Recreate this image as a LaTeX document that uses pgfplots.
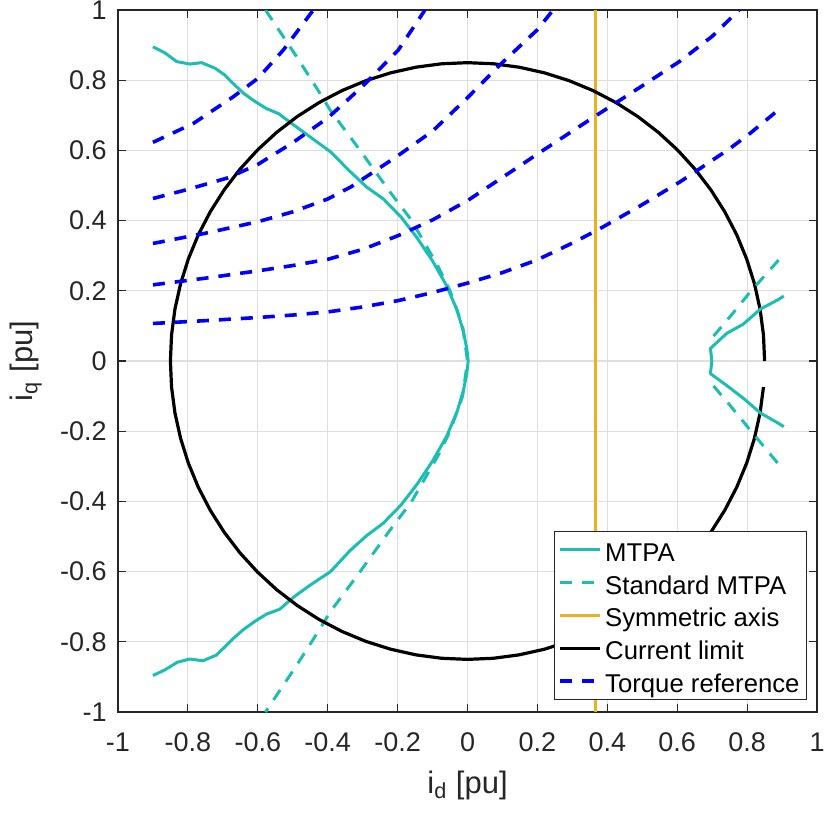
\documentclass[border=0pt]{standalone}
\usepackage{fontspec}
\setmainfont{Liberation Sans}
\usepackage{pgfplots}
\pgfplotsset{compat=1.18}
\definecolor{mteal}{RGB}{28,190,180}
\definecolor{morange}{RGB}{237,177,32}
\definecolor{axgray}{RGB}{38,38,38}
\definecolor{gridgray}{RGB}{223,223,223}
\begin{document}
\begin{tikzpicture}
\begin{axis}[
  scale only axis, width=349.5pt, height=351pt,
  xmin=-1, xmax=1, ymin=-1, ymax=1,
  xtick={-1,-0.8,-0.6,-0.4,-0.2,0,0.2,0.4,0.6,0.8,1},
  ytick={-1,-0.8,-0.6,-0.4,-0.2,0,0.2,0.4,0.6,0.8,1},
  grid=major, major grid style={draw=gridgray, line width=0.6pt},
  axis line style={draw=axgray, line width=0.6pt},
  every tick/.style={draw=axgray, line width=0.6pt},
  major tick length=4pt, tick align=inside,
  tick label style={font=\fontsize{13.5}{16}\selectfont, text=axgray},
  /pgf/number format/assume math mode=true,
  xticklabel style={anchor=north, inner ysep=0pt, yshift=-10pt},
  yticklabel style={anchor=east, inner xsep=0pt, xshift=-5.5pt},
  xlabel={i\textsubscript{d} [pu]}, ylabel={i\textsubscript{q} [pu]},
  label style={font=\fontsize{15.5}{18}\selectfont, text=axgray},
  xlabel style={at={(axis description cs:0.5,-0.1154)}, anchor=base},
  ylabel style={at={(axis description cs:-0.1216,0.5)}, anchor=base},
  legend style={at={(0.9857,0.0171)}, anchor=south east, draw=axgray, line width=0.5pt, fill=white,
    inner xsep=2pt, inner ysep=1pt, row sep=0pt,
    font=\fontsize{12.85}{15}\selectfont,
    nodes={inner xsep=1.5pt, inner ysep=0pt, text height=13.9pt, text depth=2.5pt}},
  legend cell align=left,
  legend image code/.code={\draw[#1] (0pt,0pt) -- (20pt,0pt);},
  every axis plot/.append style={line join=round},
  tdash/.style={dash pattern=on 6pt off 5pt},
]
\coordinate (bl) at (rel axis cs:-0.1688,-0.14245);
\coordinate (tr) at (rel axis cs:1.0114,1.01425);
% MTPA (left branch)
\addplot[mteal, line width=1.5pt] coordinates {
(-0.900,0.895) (-0.866,0.878) (-0.832,0.853) (-0.794,0.846) (-0.761,0.850) (-0.722,0.834)
(-0.695,0.815) (-0.672,0.792) (-0.641,0.763) (-0.609,0.740) (-0.575,0.719) (-0.541,0.705)
(-0.498,0.673) (-0.451,0.639) (-0.392,0.596) (-0.336,0.540) (-0.288,0.495) (-0.241,0.462)
(-0.190,0.410) (-0.145,0.352) (-0.100,0.285) (-0.060,0.215) (-0.030,0.145) (-0.012,0.085)
(-0.002,0.035) (0.002,0)
(-0.002,-0.035) (-0.012,-0.085) (-0.030,-0.145) (-0.060,-0.215) (-0.100,-0.285) (-0.145,-0.352)
(-0.190,-0.410) (-0.241,-0.462) (-0.288,-0.497) (-0.336,-0.540) (-0.392,-0.600) (-0.451,-0.639)
(-0.498,-0.673) (-0.537,-0.707) (-0.575,-0.721) (-0.609,-0.742) (-0.641,-0.765) (-0.672,-0.792)
(-0.695,-0.815) (-0.719,-0.838) (-0.757,-0.854) (-0.794,-0.849) (-0.830,-0.858) (-0.866,-0.880)
(-0.900,-0.896)
};
\addlegendentry{MTPA}
% Standard MTPA (left branch)
\addplot[mteal, line width=1.5pt, tdash] coordinates {
(-0.578,1.0) (-0.489,0.867) (-0.428,0.772) (-0.393,0.715) (-0.308,0.601) (-0.222,0.482)
(-0.161,0.402) (-0.122,0.335) (-0.084,0.269) (-0.050,0.200) (-0.014,0.100) (0,0)
(-0.014,-0.100) (-0.050,-0.200) (-0.084,-0.269) (-0.122,-0.335) (-0.161,-0.402) (-0.222,-0.482)
(-0.308,-0.601) (-0.393,-0.715) (-0.428,-0.772) (-0.489,-0.867) (-0.578,-1.0)
};
\addlegendentry{Standard MTPA}
% Symmetric axis
\addplot[morange, line width=1.5pt] coordinates {(0.365,-1) (0.365,1)};
\addlegendentry{Symmetric axis}
% Current limit
\addplot[black, line width=1.6pt] coordinates {
(0.85,0) (0.8468,0.0741) (0.8371,0.1476) (0.8210,0.2200) (0.7987,0.2907) (0.7704,0.3592) (0.7361,0.4250) (0.6963,0.4875) (0.6511,0.5464) (0.6010,0.6010) (0.5464,0.6511) (0.4875,0.6963) (0.4250,0.7361) (0.3592,0.7704) (0.2907,0.7987) (0.2200,0.8210) (0.1476,0.8371) (0.0741,0.8468) (0,0.85)
(-0.0741,0.8468) (-0.1476,0.8371) (-0.2200,0.8210) (-0.2907,0.7987) (-0.3592,0.7704) (-0.4250,0.7361) (-0.4875,0.6963) (-0.5464,0.6511) (-0.6010,0.6010) (-0.6511,0.5464) (-0.6963,0.4875) (-0.7361,0.4250) (-0.7704,0.3592) (-0.7987,0.2907) (-0.8210,0.2200) (-0.8371,0.1476) (-0.8468,0.0741) (-0.85,0)
(-0.8468,-0.0741) (-0.8371,-0.1476) (-0.8210,-0.2200) (-0.7987,-0.2907) (-0.7704,-0.3592) (-0.7361,-0.4250) (-0.6963,-0.4875) (-0.6511,-0.5464) (-0.6010,-0.6010) (-0.5464,-0.6511) (-0.4875,-0.6963) (-0.4250,-0.7361) (-0.3592,-0.7704) (-0.2907,-0.7987) (-0.2200,-0.8210) (-0.1476,-0.8371) (-0.0741,-0.8468) (0,-0.85)
(0.0741,-0.8468) (0.1476,-0.8371) (0.2200,-0.8210) (0.2907,-0.7987) (0.3592,-0.7704) (0.4250,-0.7361) (0.4875,-0.6963) (0.5464,-0.6511) (0.6010,-0.6010) (0.6511,-0.5464) (0.6963,-0.4875) (0.7361,-0.4250) (0.7704,-0.3592) (0.7987,-0.2907) (0.8210,-0.2200) (0.8371,-0.1476) (0.8468,-0.0741)
};
\addlegendentry{Current limit}
% Torque reference curves
\addplot[blue, line width=1.8pt, tdash] coordinates {
(-0.900,0.107) (-0.75,0.115) (-0.599,0.124) (-0.5,0.131) (-0.399,0.140) (-0.3,0.154) (-0.199,0.172)
(-0.1,0.195) (0.0,0.222) (0.1,0.252) (0.199,0.288) (0.3,0.336) (0.375,0.375) (0.494,0.442)
(0.609,0.511) (0.666,0.549) (0.75,0.605) (0.809,0.649) (0.900,0.724)
};
\addlegendentry{Torque reference}
\addplot[blue, line width=1.8pt, tdash, forget plot] coordinates {
(-0.9,0.217) (-0.75,0.236) (-0.599,0.257) (-0.5,0.272) (-0.399,0.290) (-0.3,0.318) (-0.199,0.357)
(-0.1,0.402) (0.0,0.457) (0.094,0.519) (0.199,0.589) (0.3,0.655) (0.366,0.698) (0.5,0.784)
(0.609,0.855) (0.7,0.925) (0.777,1.0)
};
\addplot[blue, line width=1.8pt, tdash, forget plot] coordinates {
(-0.9,0.335) (-0.75,0.364) (-0.599,0.397) (-0.5,0.425) (-0.399,0.462) (-0.332,0.497) (-0.199,0.585)
(-0.1,0.655) (0.0,0.750) (0.094,0.845) (0.199,0.943) (0.245,1.0)
};
\addplot[blue, line width=1.8pt, tdash, forget plot] coordinates {
(-0.9,0.463) (-0.8,0.489) (-0.685,0.522) (-0.6,0.560) (-0.5,0.622) (-0.398,0.694) (-0.3,0.783)
(-0.198,0.886) (-0.131,0.986) (-0.122,1.0)
};
\addplot[blue, line width=1.8pt, tdash, forget plot] coordinates {
(-0.9,0.623) (-0.784,0.677) (-0.670,0.753) (-0.6,0.805) (-0.527,0.886) (-0.441,1.0)
};
% MTPA right branch
\addplot[mteal, line width=1.5pt, forget plot] coordinates {
(0.905,0.185) (0.889,0.175) (0.838,0.148) (0.789,0.105) (0.742,0.079) (0.695,0.036) (0.699,0.0)
(0.695,-0.036) (0.742,-0.070) (0.789,-0.106) (0.838,-0.148) (0.889,-0.177) (0.905,-0.187)
};
% Standard MTPA right branch
\addplot[mteal, line width=1.5pt, tdash, forget plot] coordinates {
(0.704,0.071) (0.75,0.125) (0.809,0.197) (0.895,0.293)
};
\addplot[mteal, line width=1.5pt, tdash, forget plot] coordinates {
(0.704,-0.071) (0.75,-0.125) (0.809,-0.197) (0.895,-0.300)
};
\end{axis}
\pgfresetboundingbox
\path[use as bounding box] (bl) rectangle (tr);
\end{tikzpicture}
\end{document}
